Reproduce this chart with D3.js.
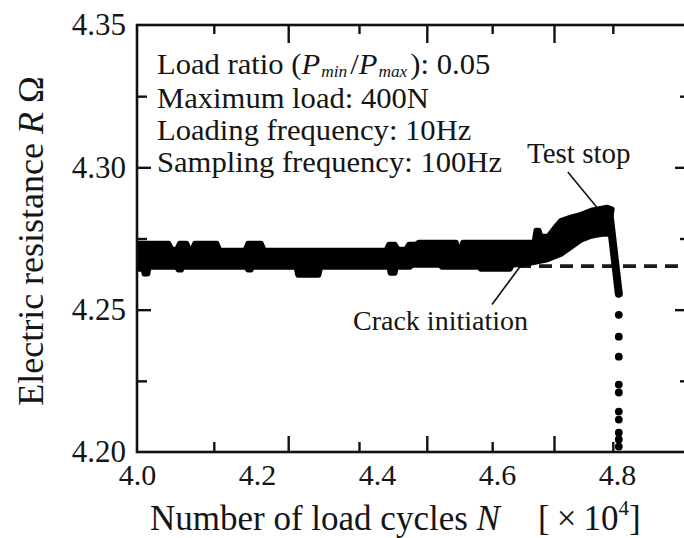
<!DOCTYPE html>
<html>
<head>
<meta charset="utf-8">
<script src="https://cdn.jsdelivr.net/npm/d3@7"></script>
<style>
  html, body { margin: 0; padding: 0; background: #fff; }
  svg { display: block; }
  text { font-family: "Liberation Serif", "Times New Roman", serif; fill: #151515; }
</style>
</head>
<body>
<svg id="chart" width="684" height="538"></svg>
<script>
// ---------------- data (N in ×10^4 cycles, R in Ω) ----------------
const xLabelTicks = [4.0, 4.2, 4.4, 4.6, 4.8];
const yLabelTicks = [4.20, 4.25, 4.30, 4.35];
const xMajorTicks = [4.252, 4.483, 4.695];
const xMinorTicks = [4.128, 4.37, 4.592, 4.793];
const yMajorTicks = [4.25, 4.30];
const yMinorTicks = [4.225, 4.275, 4.325];

// upper envelope of the dense scatter band
const bandTopN = [4.003, 4.053, 4.058, 4.066, 4.071, 4.083, 4.087, 4.092, 4.096, 4.133, 4.138, 4.180, 4.185, 4.207, 4.212, 4.415, 4.420, 4.430, 4.435, 4.448, 4.453, 4.465, 4.470, 4.532, 4.535, 4.540, 4.543, 4.662, 4.665, 4.670, 4.673, 4.685, 4.698, 4.707, 4.723, 4.740, 4.757, 4.773, 4.783, 4.792];
const bandTopR = [4.2733, 4.2733, 4.2712, 4.2712, 4.2733, 4.2733, 4.2712, 4.2712, 4.2733, 4.2733, 4.2709, 4.2709, 4.2733, 4.2733, 4.2709, 4.2709, 4.2730, 4.2730, 4.2712, 4.2712, 4.2730, 4.2730, 4.2737, 4.2737, 4.2715, 4.2715, 4.2737, 4.2737, 4.2779, 4.2779, 4.2758, 4.2758, 4.2793, 4.2814, 4.2825, 4.2835, 4.2849, 4.2856, 4.2860, 4.2853];
// lower envelope of the band
const bandBotN = [4.003, 4.010, 4.012, 4.018, 4.020, 4.066, 4.069, 4.074, 4.076, 4.182, 4.185, 4.190, 4.192, 4.265, 4.268, 4.303, 4.306, 4.420, 4.422, 4.430, 4.432, 4.455, 4.458, 4.505, 4.508, 4.570, 4.573, 4.622, 4.625, 4.655, 4.682, 4.707, 4.723, 4.740, 4.757, 4.775, 4.785];
const bandBotR = [4.2642, 4.2642, 4.2625, 4.2625, 4.2649, 4.2649, 4.2639, 4.2639, 4.2649, 4.2649, 4.2639, 4.2639, 4.2649, 4.2649, 4.2621, 4.2621, 4.2649, 4.2649, 4.2628, 4.2628, 4.2649, 4.2649, 4.2656, 4.2656, 4.2649, 4.2649, 4.2642, 4.2642, 4.2656, 4.2663, 4.2674, 4.2695, 4.2719, 4.2744, 4.2758, 4.2765, 4.2765];
// sharp drop after the test stop
const dropN = [4.786, 4.789, 4.796, 4.800, 4.803];
const dropR = [4.2850, 4.2809, 4.2682, 4.2610, 4.2556];
// isolated samples after fracture
const tailN = [4.803, 4.803, 4.803, 4.803, 4.803, 4.803, 4.803, 4.803, 4.803, 4.803];
const tailR = [4.2482, 4.2405, 4.2335, 4.2237, 4.2209, 4.2142, 4.2114, 4.2068, 4.2044, 4.2019];
// reference (initial) resistance level
const refLevelR = 4.2653;
const refLevelFromN = 4.60;

// ---------------- layout ----------------
const mLeft = 137, mRight = 689, mTop = 25, mBottom = 452;
const svg = d3.select("#chart");

const x = d3.scaleLinear().domain([4.0, 4.92]).range([mLeft, mRight]);
const y = d3.scaleLinear().domain([4.20, 4.35]).range([mBottom, mTop]);

const plot = svg.append("g");

// dashed reference line
plot.append("line")
  .attr("x1", x(refLevelFromN)).attr("x2", x(4.92))
  .attr("y1", y(refLevelR)).attr("y2", y(refLevelR))
  .attr("stroke", "#1a1a1a").attr("stroke-width", 3.6)
  .attr("stroke-dasharray", "13,8");

// band polygon
const topPts = bandTopN.map((n, i) => [n, bandTopR[i]]);
const botPts = bandBotN.map((n, i) => [n, bandBotR[i]]).reverse();
const bandLine = d3.line().x(d => x(d[0])).y(d => y(d[1]));
plot.append("path")
  .attr("d", bandLine(topPts.concat(botPts)) + "Z")
  .attr("fill", "#000").attr("stroke", "#000")
  .attr("stroke-width", 5).attr("stroke-linejoin", "round");

// drop
plot.append("path")
  .attr("d", bandLine(dropN.map((n, i) => [n, dropR[i]])))
  .attr("fill", "none").attr("stroke", "#000")
  .attr("stroke-width", 8).attr("stroke-linecap", "round").attr("stroke-linejoin", "round");

// tail dots
plot.selectAll("circle.tail").data(tailN.map((n, i) => [n, tailR[i]]))
  .join("circle").attr("class", "tail")
  .attr("cx", d => x(d[0])).attr("cy", d => y(d[1])).attr("r", 3.9)
  .attr("fill", "#000");

// ---------------- axes ----------------
const axStyle = g => {
  g.select(".domain").remove();
  g.selectAll(".tick line").attr("stroke", "#111").attr("stroke-width", 2.4);
};
svg.append("g").attr("transform", `translate(0,${mBottom})`)
  .call(d3.axisBottom(x).tickValues(xMajorTicks).tickSize(-16).tickFormat("")).call(axStyle);
svg.append("g").attr("transform", `translate(0,${mBottom})`)
  .call(d3.axisBottom(x).tickValues(xMinorTicks).tickSize(-10).tickFormat("")).call(axStyle);
svg.append("g").attr("transform", `translate(0,${mTop})`)
  .call(d3.axisTop(x).tickValues(xMajorTicks).tickSize(-18).tickFormat("")).call(axStyle);
svg.append("g").attr("transform", `translate(0,${mTop})`)
  .call(d3.axisTop(x).tickValues(xMinorTicks).tickSize(-9).tickFormat("")).call(axStyle);
svg.append("g").attr("transform", `translate(${mLeft},0)`)
  .call(d3.axisLeft(y).tickValues(yMajorTicks).tickSize(-14).tickFormat("")).call(axStyle);
svg.append("g").attr("transform", `translate(${mLeft},0)`)
  .call(d3.axisLeft(y).tickValues(yMinorTicks).tickSize(-10).tickFormat("")).call(axStyle);
svg.append("g").attr("transform", `translate(${mRight},0)`)
  .call(d3.axisRight(y).tickValues(yMajorTicks).tickSize(-14).tickFormat("")).call(axStyle);
svg.append("g").attr("transform", `translate(${mRight},0)`)
  .call(d3.axisRight(y).tickValues(yMinorTicks).tickSize(-9).tickFormat("")).call(axStyle);

// frame
svg.append("rect")
  .attr("x", mLeft).attr("y", mTop).attr("width", mRight - mLeft).attr("height", mBottom - mTop)
  .attr("fill", "none").attr("stroke", "#111").attr("stroke-width", 2.6);

// tick labels
const xl = svg.append("g").attr("transform", `translate(0,${mBottom})`)
  .call(d3.axisBottom(x).tickValues(xLabelTicks).tickSize(0).tickPadding(12).tickFormat(d3.format(".1f")));
xl.select(".domain").remove();
xl.selectAll("text").attr("font-size", 30).attr("font-family", "Liberation Serif").attr("fill", "#151515");

const yl = svg.append("g").attr("transform", `translate(${mLeft},0)`)
  .call(d3.axisLeft(y).tickValues(yLabelTicks).tickSize(0).tickPadding(11).tickFormat(d3.format(".2f")));
yl.select(".domain").remove();
yl.selectAll("text").attr("font-size", 31).attr("font-family", "Liberation Serif").attr("fill", "#151515");

// ---------------- axis titles ----------------
const xt = svg.append("text").attr("x", 150).attr("y", 530).attr("font-size", 35);
xt.append("tspan").text("Number of load cycles ");
xt.append("tspan").attr("font-style", "italic").text("N");
const xu = svg.append("text").attr("x", 538).attr("y", 530).attr("font-size", 35);
xu.append("tspan").text("[\u2009×\u200910");
xu.append("tspan").attr("font-size", 21).attr("dy", -15).text("4");
xu.append("tspan").attr("dy", 15).text("]");

const yt = svg.append("text").attr("transform", "translate(43,241) rotate(-90)")
  .attr("text-anchor", "middle").attr("font-size", 36);
yt.append("tspan").text("Electric resistance ");
yt.append("tspan").attr("font-style", "italic").text("R");
yt.append("tspan").text("  Ω");

// ---------------- annotations ----------------
const annFs = 30;
const ann = svg.append("g").attr("transform", "translate(157,0) scale(1.02,1)");
const pieces = [
  { t: "Load ratio (", it: false, fs: annFs, dy: 0, gap: 0 },
  { t: "P", it: true, fs: annFs, dy: 0, gap: 0 },
  { t: "min", it: true, fs: 17, dy: 3, gap: 1 },
  { t: "/", it: false, fs: annFs, dy: 0, gap: 3 },
  { t: "P", it: true, fs: annFs, dy: 0, gap: 0 },
  { t: "max", it: true, fs: 17, dy: 3, gap: 1 },
  { t: "): 0.05", it: false, fs: annFs, dy: 0, gap: 3 }
];
let cx = 0;
pieces.forEach(p => {
  cx += p.gap;
  const t = ann.append("text").attr("x", cx).attr("y", 74 + p.dy)
    .attr("font-size", p.fs).attr("font-style", p.it ? "italic" : "normal").text(p.t);
  cx += t.node().getComputedTextLength();
});
ann.append("text").attr("x", 0).attr("y", 108).attr("font-size", annFs).text("Maximum load: 400N");
ann.append("text").attr("x", 0).attr("y", 140).attr("font-size", annFs).text("Loading frequency: 10Hz");
ann.append("text").attr("x", 0).attr("y", 172).attr("font-size", annFs).text("Sampling frequency: 100Hz");

svg.append("text").attr("x", 527).attr("y", 163).attr("font-size", 29).text("Test stop");
svg.append("line")
  .attr("x1", x(4.718)).attr("y1", y(4.2984)).attr("x2", x(4.767)).attr("y2", y(4.2858))
  .attr("stroke", "#111").attr("stroke-width", 1.6);

svg.append("text").attr("x", 353).attr("y", 330).attr("font-size", 28).text("Crack initiation");
svg.append("line")
  .attr("x1", x(4.5917)).attr("y1", y(4.2518)).attr("x2", x(4.6383)).attr("y2", y(4.2651))
  .attr("stroke", "#111").attr("stroke-width", 1.6);
</script>
</body>
</html>
